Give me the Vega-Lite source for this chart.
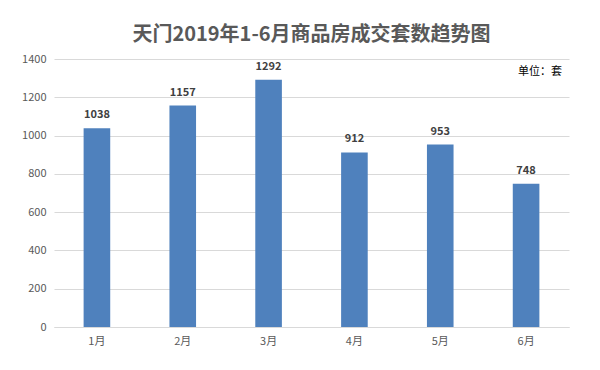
{
  "$schema": "https://vega.github.io/schema/vega-lite/v6.json",
  "autosize": "none",
  "width": 515,
  "height": 268,
  "padding": {"left": 54, "top": 59, "right": 31, "bottom": 43},
  "background": "white",
  "title": {
    "text": "天门2019年1-6月商品房成交套数趋势图",
    "font": "Noto Sans CJK SC",
    "fontSize": 20,
    "fontWeight": "bold",
    "color": "#595959",
    "offset": 8,
    "anchor": "middle"
  },
  "data": {
    "values": [
      {"month": "1月", "count": 1038},
      {"month": "2月", "count": 1157},
      {"month": "3月", "count": 1292},
      {"month": "4月", "count": 912},
      {"month": "5月", "count": 953},
      {"month": "6月", "count": 748}
    ]
  },
  "config": {
    "view": {"stroke": null},
    "font": "Noto Sans CJK SC"
  },
  "encoding": {
    "x": {
      "field": "month",
      "type": "nominal",
      "sort": null,
      "scale": {"paddingInner": 0.69, "paddingOuter": 0.345},
      "axis": {
        "title": null,
        "labelAngle": 0,
        "labelFontSize": 11,
        "labelColor": "#595959",
        "labelPadding": 8,
        "ticks": false,
        "domainColor": "#d9d9d9",
        "grid": false
      }
    },
    "y": {
      "field": "count",
      "type": "quantitative",
      "scale": {"domain": [0, 1400]},
      "axis": {
        "title": null,
        "format": "d",
        "values": [0, 200, 400, 600, 800, 1000, 1200, 1400],
        "labelFontSize": 11,
        "labelColor": "#595959",
        "labelPadding": 8,
        "ticks": false,
        "domain": false,
        "gridColor": "#d9d9d9"
      }
    }
  },
  "layer": [
    {"mark": {"type": "bar", "color": "#4F81BD"}},
    {
      "mark": {"type": "text", "baseline": "bottom", "dy": -8, "fontSize": 11, "fontWeight": "bold", "color": "#404040"},
      "encoding": {"text": {"field": "count", "type": "quantitative"}}
    },
    {
      "data": {"values": [{"label": "单位：套", "m": "6月", "v": 1330}]},
      "mark": {"type": "text", "align": "center", "baseline": "middle", "dx": 14, "fontSize": 11, "color": "#000000"},
      "encoding": {
        "x": {"field": "m", "type": "nominal"},
        "y": {"field": "v", "type": "quantitative"},
        "text": {"field": "label"}
      }
    }
  ]
}
